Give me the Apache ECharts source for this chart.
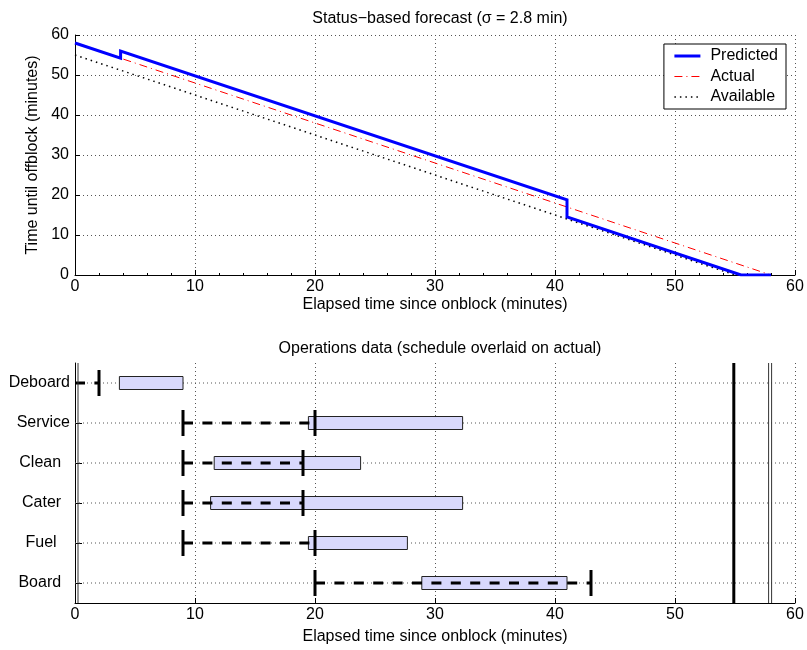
<!DOCTYPE html>
<html>
<head>
<meta charset="utf-8">
<script src="https://cdn.jsdelivr.net/npm/echarts@6/dist/echarts.min.js"></script>
<style>
html,body{margin:0;padding:0;background:#fff;}
#chart{width:807px;height:650px;}
</style>
</head>
<body>
<div id="chart"></div>
<script>
// ---------- Data ----------
// Top panel: status-based forecast
const predictedX = [0, 3.8, 3.8, 41, 41, 55.5, 58];
const predictedY = [58, 54.2, 56, 18.8, 14.5, 0, 0];
const actualX = [0, 58];
const actualY = [58, 0];
const availableX = [0, 55];
const availableY = [55, 0];

// Bottom panel: operations data
const operations = ['Deboard', 'Service', 'Clean  ', 'Cater  ', 'Fuel   ', 'Board  '];
const scheduleStart = [0, 9, 9, 9, 9, 20];
const scheduleEnd = [2, 20, 19, 19, 20, 43];
const actualStart = [3.7, 19.45, 11.6, 11.3, 19.45, 28.9];
const actualEnd = [9, 32.3, 23.8, 32.3, 27.7, 41];
const thickEventLines = [54.9];
const thinEventLines = [0.25, 57.8, 58.05];

const xTicksMin = 0, xTicksMax = 60, xTickStep = 10;
const yTicksMin = 0, yTicksMax = 60, yTickStep = 10;

// ---------- Chart ----------
const FONT = 'Liberation Sans, Arial, Helvetica, sans-serif';
const pair = (xs, ys) => xs.map((x, i) => [x, ys[i]]);
const gridDots = { color: '#555', width: 1, type: [1, 3] };

const predictedStyle = { color: '#0000ff', width: 3, type: 'solid' };
const actualStyle = { color: '#ff0000', width: 1, type: [8, 4, 1, 4] };
const availableStyle = { color: '#000', width: 1.5, type: [1.5, 4] };

const chart = echarts.init(document.getElementById('chart'), null, { renderer: 'canvas' });

const opsData = operations.map((name, i) => [i, scheduleStart[i], scheduleEnd[i], actualStart[i], actualEnd[i]]);

function renderOps(params, api) {
  const i = api.value(0);
  const y = api.coord([0, i])[1];
  const xg0 = api.coord([xTicksMin, i])[0];
  const xg1 = api.coord([xTicksMax, i])[0];
  const xs0 = api.coord([api.value(1), i])[0];
  const xs1 = api.coord([api.value(2), i])[0];
  const xa0 = api.coord([api.value(3), i])[0];
  const xa1 = api.coord([api.value(4), i])[0];
  const bh = 13, th = 13;
  const children = [
    { type: 'line', shape: { x1: xg0, y1: y, x2: xg1, y2: y }, style: { stroke: '#555', lineWidth: 1, lineDash: [1, 3] } },
    { type: 'rect', shape: { x: xa0, y: y - bh / 2, width: xa1 - xa0, height: bh }, style: { fill: '#d8d8fc', stroke: '#222', lineWidth: 1 } },
    { type: 'line', shape: { x1: xs0, y1: y, x2: xs1, y2: y }, style: { stroke: '#000', lineWidth: 3, lineDash: [10, 9.4] } },
    { type: 'line', shape: { x1: xs1, y1: y - th, x2: xs1, y2: y + th }, style: { stroke: '#000', lineWidth: 3 } }
  ];
  if (api.value(1) > xTicksMin) {
    children.push({ type: 'line', shape: { x1: xs0, y1: y - th, x2: xs0, y2: y + th }, style: { stroke: '#000', lineWidth: 3 } });
  }
  return { type: 'group', children };
}

function vertRenderer(width, color) {
  return function (params, api) {
    const cs = params.coordSys;
    const x = api.coord([api.value(0), 0])[0];
    return { type: 'line', shape: { x1: x, y1: cs.y, x2: x, y2: cs.y + cs.height }, style: { stroke: color, lineWidth: width } };
  };
}

const axisLabelStyle = { fontFamily: FONT, fontSize: 16, color: '#000' };
const axisNameStyle = { fontFamily: FONT, fontSize: 16, color: '#000' };

const option = {
  animation: false,
  backgroundColor: '#fff',
  title: [
    { text: 'Status\u2212based forecast (\u03c3 = 2.8 min)', left: 435, top: 6, textAlign: 'center',
      textStyle: { fontFamily: FONT, fontSize: 16, fontWeight: 'normal', color: '#000' } },
    { text: 'Operations data (schedule overlaid on actual)', left: 435, top: 336, textAlign: 'center',
      textStyle: { fontFamily: FONT, fontSize: 16, fontWeight: 'normal', color: '#000' } }
  ],
  legend: {
    data: [
      { name: 'Predicted', lineStyle: predictedStyle },
      { name: 'Actual', lineStyle: actualStyle },
      { name: 'Available', lineStyle: availableStyle }
    ],
    orient: 'vertical',
    right: 21, top: 44,
    backgroundColor: '#fff',
    borderColor: '#000', borderWidth: 1,
    padding: [4, 8, 4, 9],
    itemWidth: 26, itemHeight: 14, itemGap: 4.5,
    itemStyle: { opacity: 0, color: 'rgba(0,0,0,0)', borderWidth: 0 },
    textStyle: { fontFamily: FONT, fontSize: 16, color: '#000', padding: [0, 0, 0, 5] }
  },
  grid: [
    { left: 75, right: 12, top: 35, height: 240 },
    { left: 75, right: 12, top: 363, height: 240 }
  ],
  xAxis: [
    { gridIndex: 0, type: 'value', min: xTicksMin, max: xTicksMax, interval: xTickStep,
      name: 'Elapsed time since onblock (minutes)', nameLocation: 'middle', nameGap: 22, nameTextStyle: axisNameStyle,
      axisLine: { show: true, onZero: false, lineStyle: { color: '#000', width: 1 } },
      axisTick: { show: true, inside: true, length: 5, lineStyle: { color: '#000' } },
      minorTick: { show: true, splitNumber: 5, length: 2, lineStyle: { color: '#000' } },
      axisLabel: Object.assign({ margin: 4 }, axisLabelStyle),
      splitLine: { show: true, lineStyle: gridDots } },
    { gridIndex: 1, type: 'value', min: xTicksMin, max: xTicksMax, interval: xTickStep,
      name: 'Elapsed time since onblock (minutes)', nameLocation: 'middle', nameGap: 26, nameTextStyle: axisNameStyle,
      axisLine: { show: true, onZero: false, lineStyle: { color: '#000', width: 1 } },
      axisTick: { show: true, inside: true, length: 5, lineStyle: { color: '#000' } },
      axisLabel: Object.assign({ margin: 4 }, axisLabelStyle),
      splitLine: { show: true, lineStyle: gridDots } }
  ],
  yAxis: [
    { gridIndex: 0, type: 'value', min: yTicksMin, max: yTicksMax, interval: yTickStep,
      name: 'Time until offblock (minutes)', nameLocation: 'middle', nameGap: 26, nameTextStyle: axisNameStyle,
      axisLine: { show: true, onZero: false, lineStyle: { color: '#000', width: 1 } },
      axisTick: { show: true, inside: true, length: 5, lineStyle: { color: '#000' } },
      axisLabel: Object.assign({ margin: 6 }, axisLabelStyle),
      splitLine: { show: true, lineStyle: gridDots } },
    { gridIndex: 1, type: 'category', data: operations, inverse: true,
      axisLine: { show: true, onZero: false, lineStyle: { color: '#000', width: 1 } },
      axisTick: { show: true, inside: true, alignWithLabel: true, length: 7, lineStyle: { color: '#000' } },
      axisLabel: Object.assign({ margin: 5 }, axisLabelStyle),
      splitLine: { show: false } }
  ],
  series: [
    { name: 'Available', type: 'line', xAxisIndex: 0, yAxisIndex: 0, data: pair(availableX, availableY),
      symbol: 'none', lineStyle: availableStyle, itemStyle: { color: '#000' }, z: 2 },
    { name: 'Actual', type: 'line', xAxisIndex: 0, yAxisIndex: 0, data: pair(actualX, actualY),
      symbol: 'none', lineStyle: actualStyle, itemStyle: { color: '#ff0000' }, z: 3 },
    { name: 'Predicted', type: 'line', xAxisIndex: 0, yAxisIndex: 0, data: pair(predictedX, predictedY),
      symbol: 'none', lineStyle: Object.assign({ join: 'miter' }, predictedStyle), itemStyle: { color: '#0000ff' }, z: 4 },
    { type: 'custom', xAxisIndex: 1, yAxisIndex: 1, data: opsData, renderItem: renderOps, clip: true, z: 3 },
    { type: 'custom', xAxisIndex: 1, yAxisIndex: 1, data: thickEventLines.map(v => [v, 0]), renderItem: vertRenderer(3, '#000'), z: 4 },
    { type: 'custom', xAxisIndex: 1, yAxisIndex: 1, data: thinEventLines.map(v => [v, 0]), renderItem: vertRenderer(1, '#333'), z: 4 }
  ]
};
chart.setOption(option);
</script>
</body>
</html>
